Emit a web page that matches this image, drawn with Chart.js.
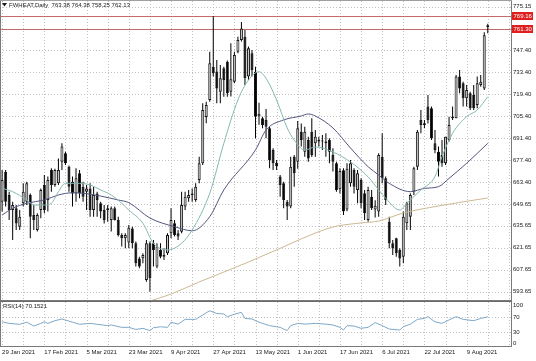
<!DOCTYPE html>
<html><head><meta charset="utf-8">
<script src="https://cdn.jsdelivr.net/npm/chart.js@4/dist/chart.umd.min.js"></script>
<style>
html,body{margin:0;padding:0;background:#fff;}
#wrap{position:relative;width:536px;height:361px;overflow:hidden;background:#fff;}
canvas{position:absolute;left:0;}
#c1{top:0;width:536px;height:301px;}
#c2{top:301px;width:536px;height:60px;}
</style></head><body>
<div id="wrap"><canvas id="c1" width="536" height="301"></canvas><canvas id="c2" width="536" height="60"></canvas></div>
<script>
// ---------------- data ----------------
const symbolTitle = 'FWHEAT,Daily  763.38 764.38 758.25 762.13';
const rsiTitle = 'RSI(14) 70.1521';
const dateLabels = ['29 Jan 2021','17 Feb 2021','5 Mar 2021','23 Mar 2021','9 Apr 2021','27 Apr 2021','13 May 2021','1 Jun 2021','17 Jun 2021','6 Jul 2021','22 Jul 2021','9 Aug 2021'];
const priceTicks = [775.15, 747.40, 733.40, 719.40, 705.40, 691.40, 677.40, 663.40, 649.65, 635.65, 621.65, 607.65, 593.65];
const rsiTicks = [100, 70, 30, 0];
const rsiLevels = [70, 30];
const hLines = [769.16, 761.30];

const open = [651.0,670.1,655.3,645.7,646.8,635.1,650.0,651.0,655.3,642.6,633.0,645.7,661.7,652.1,671.2,661.7,662.7,676.5,681.8,673.3,
663.8,656.3,669.1,660.6,657.4,659.5,645.7,656.3,650.0,645.7,645.7,639.4,646.8,639.4,629.8,627.7,625.0,634.0,624.5,614.9,
615.0,601.2,624.5,624.5,609.7,620.3,616.0,618.1,630.9,637.3,630.9,631.9,647.9,653.2,656.3,652.1,664.9,675.5,705.0,715.8,
737.0,733.9,721.1,736.0,740.2,721.0,727.5,746.6,754.0,756.1,730.7,745.5,733.8,705.5,704.1,703.1,697.8,683.9,675.9,667.0,
662.7,651.0,647.9,679.7,676.5,695.6,682.9,690.3,695.6,688.2,690.3,689.3,689.3,690.3,680.8,675.5,659.0,671.0,646.0,662.7,
671.2,658.5,664.9,656.4,639.4,654.2,646.0,644.7,679.7,665.9,638.3,624.5,627.7,620.3,616.0,637.3,641.5,657.4,673.3,703.1,
699.9,711.6,710.5,688.2,682.9,680.8,675.5,690.3,704.1,704.1,730.7,726.4,716.9,720.1,719.0,712.6,725.4,723.2,763.38];
const high = [671.2,671.2,657.4,651.0,648.9,645.7,662.7,663.8,656.3,648.9,643.6,659.5,668.0,667.0,672.3,672.0,678.6,688.2,682.9,674.0,
667.0,672.3,671.2,663.8,661.7,662.7,660.6,657.4,651.0,648.9,648.9,647.9,647.9,641.5,630.9,630.9,636.2,635.1,625.6,616.0,
618.1,626.6,625.6,626.6,624.5,624.5,621.3,630.9,646.8,639.4,633.0,657.4,657.4,658.5,659.5,662.7,679.7,713.7,714.7,746.6,
769.16,741.3,738.1,737.0,741.0,752.0,746.6,756.1,765.5,760.4,749.8,747.7,737.0,714.0,705.2,710.0,698.8,685.0,677.6,668.0,
663.8,652.1,679.7,680.8,702.5,700.9,698.8,692.4,704.1,696.7,692.4,693.5,694.6,691.4,685.0,676.5,672.3,672.3,675.5,677.6,
672.3,671.2,665.9,658.5,660.6,658.5,652.0,681.8,694.6,667.0,641.5,626.6,628.0,621.3,644.7,651.0,656.4,673.3,696.7,709.4,
703.1,719.0,711.6,696.7,686.1,690.3,692.4,705.2,711.6,731.7,734.9,727.5,725.4,721.1,725.4,730.7,731.7,759.0,764.38];
const low = [644.7,647.9,639.4,626.6,633.0,633.0,647.9,648.9,627.7,633.0,632.0,640.4,643.6,644.7,657.4,660.6,661.7,671.2,674.4,657.4,
647.9,651.0,653.2,651.0,645.7,641.5,641.5,641.5,640.4,637.2,638.3,632.0,639.0,628.8,622.4,621.3,621.3,621.3,609.7,608.6,
611.8,600.1,593.7,609.7,608.6,615.0,613.9,617.1,627.7,628.8,626.6,630.9,645.7,651.0,651.0,651.0,662.7,674.4,701.0,714.7,
730.7,713.7,713.7,717.9,717.9,718.0,726.4,745.5,753.0,725.4,728.5,730.7,691.5,700.0,697.8,691.4,672.3,671.2,671.2,654.2,
646.8,639.4,646.8,660.6,672.0,686.1,679.7,676.5,679.5,679.7,686.1,684.0,679.7,675.5,670.2,657.4,656.3,642.6,645.0,660.6,
656.3,650.0,646.8,639.4,638.3,645.7,641.0,641.5,662.7,648.9,621.3,617.1,616.0,609.7,611.8,633.0,633.0,655.3,671.2,694.6,
697.8,700.9,690.3,681.8,667.0,673.3,674.4,689.3,703.1,704.1,720.1,711.6,711.6,709.4,709.4,710.5,724.3,722.2,758.25];
const close = [664.8,651.0,645.7,648.9,637.2,641.5,657.4,662.7,641.5,639.4,642.6,658.5,645.7,664.8,661.7,671.2,671.2,686.1,675.5,660.6,
656.3,665.9,656.3,654.2,659.5,645.7,655.3,652.1,644.7,639.4,646.8,646.8,639.4,629.8,627.7,629.8,634.5,624.5,611.8,609.7,
617.0,624.5,602.2,620.3,622.4,616.0,617.1,629.8,639.4,629.8,628.8,648.9,654.2,655.3,655.3,660.6,675.5,709.4,712.6,739.2,
732.8,723.2,729.6,728.5,720.1,729.0,744.5,754.0,761.3,729.6,748.7,734.9,705.2,707.0,699.9,698.8,677.6,675.5,673.8,661.7,
652.1,647.9,673.3,669.1,697.8,690.3,695.6,678.6,680.8,692.4,689.3,690.0,688.2,682.9,676.5,658.5,670.5,645.0,672.0,675.5,
660.6,669.1,650.0,643.6,658.5,646.8,648.5,680.8,665.9,652.1,624.5,621.3,618.1,614.9,641.5,650.0,655.3,672.3,695.6,699.9,
701.0,703.1,691.4,684.0,676.5,675.5,692.4,699.9,705.2,730.7,723.2,716.9,722.2,710.5,710.5,726.4,727.5,757.0,762.13];

// moving averages (bar index, price)
const maFastIdx = [0,3,7,9,12,14,16,18,22,25,28,31,34,36,40,43,47,51,54,59,63,67,70,73,75,78,81,83,86,89,94,99,104,107,109,113,115,119,123,125,128,132,135,138];
const maFastVal = [659.6,657.4,652.1,648.9,648.9,650.0,657.4,662.7,662.7,661.7,658.5,655.3,650.0,645.7,637.3,624.5,620.3,624.5,633.0,656.4,688.2,715.8,728.5,733.8,729.6,715.8,698.0,690.3,683.9,685.9,682.7,676.3,666.8,658.5,653.2,645.7,650.0,658.5,667.0,679.7,694.6,705.2,709.4,717.9];
const maMidIdx = [0,3,7,12,16,20,23,28,33,36,42,49,54,59,63,72,75,80,85,87,89,94,99,104,107,110,116,120,124,127,132,138];
const maMidVal = [642.5,646.8,650.0,652.1,655.3,656.7,656.4,654.6,652.1,650.4,640.6,635.1,632.5,641.5,658.5,684.0,696.7,703.1,705.6,706.9,705.6,698.0,685.2,673.3,668.0,662.7,657.4,659.5,660.6,665.9,675.5,688.2];
const maSlowIdx = [41,48,56,63,70,78,85,94,102,107,114,124,138];
const maSlowVal = [587.0,592.2,599.9,606.2,612.6,620.3,627.3,634.9,637.5,638.7,643.8,648.3,653.4];

// RSI(14) (bar index, value)
const rsiIdx = [0,2,5,7,9,11,12,13,15,17,20,22,25,27,30,31,34,36,38,40,42,43,45,47,48,50,52,55,57,58,59,61,63,64,66,68,69,71,73,76,79,80,81,82,84,86,89,92,94,96,97,98,100,102,104,106,108,110,113,114,116,118,120,121,123,125,127,129,131,134,136,138];
const rsiVal = [57,53,50.5,56,46,53,57,53,60,64.5,56,50.5,53,50.5,47,48.7,42.5,42.5,37,40,34,41.5,44,42.5,56,51,63.5,63.5,75,81,86,79,77.6,70.5,77,82,66,64.5,56,47,42.5,38,34,47,53,51,53,51,48.7,42.5,35.5,47,46,40,42.5,55,47,38,35.5,44,51,63.5,66,70.5,57,53,62,70.5,63.5,60,66,70.15];

// ---------------- layout / style ----------------
const FONT = '"Liberation Sans", Arial, sans-serif';
const X_MIN = -0.6, X_MAX = 144.6;
const gridXTicks = []; for (let i = 0; i <= 144; i += 6) gridXTicks.push(i);

const gridPlugin = {
  id: 'mtGrid',
  beforeDatasetsDraw(chart, args, opts) {
    const {ctx, chartArea: a, scales} = chart;
    ctx.save();
    ctx.strokeStyle = '#c2c2c2'; ctx.lineWidth = 1; ctx.setLineDash([1, 2]);
    ctx.beginPath();
    (opts.yLines || []).forEach(v => { const y = Math.round(scales.y.getPixelForValue(v)) + 0.5; ctx.moveTo(a.left, y); ctx.lineTo(a.right, y); });
    gridXTicks.forEach(v => { const x = Math.round(scales.x.getPixelForValue(v)) + 0.5; ctx.moveTo(x, a.top); ctx.lineTo(x, a.bottom); });
    ctx.stroke();
    ctx.setLineDash([]);
    (opts.hLines || []).forEach(v => {
      const y = Math.round(scales.y.getPixelForValue(v)) + 0.5;
      ctx.strokeStyle = '#c46a6a'; ctx.beginPath(); ctx.moveTo(a.left, y); ctx.lineTo(a.right, y); ctx.stroke();
    });
    ctx.restore();
  }
};

const decoPlugin = {
  id: 'mtDeco',
  afterDraw(chart, args, opts) {
    const {ctx, chartArea: a, scales} = chart;
    ctx.save();
    (opts.hLines || []).forEach(v => {
      const y = Math.round(scales.y.getPixelForValue(v));
      ctx.fillStyle = '#e01e1e'; ctx.fillRect(a.right + 1, y - 4, 21, 8);
      ctx.fillStyle = '#ffffff'; ctx.font = '6px ' + FONT; ctx.textBaseline = 'middle'; ctx.textAlign = 'left';
      ctx.fillText(v.toFixed(2), a.right + 2.5, y + 0.5);
    });
    ctx.strokeStyle = '#7a7a7a'; ctx.lineWidth = 1;
    ctx.beginPath();
    ctx.moveTo(a.right + 0.5, 0); ctx.lineTo(a.right + 0.5, opts.frameBottom + 1);
    ctx.moveTo(0.5, 0); ctx.lineTo(0.5, opts.frameBottom + 1);
    ctx.moveTo(0, opts.frameBottom + 0.5); ctx.lineTo(a.right + 1, opts.frameBottom + 0.5);
    ctx.stroke();
    if (opts.frameTop !== undefined) {
      ctx.strokeStyle = opts.frameTopColor || '#7a7a7a';
      ctx.beginPath(); ctx.moveTo(0, opts.frameTop + 0.5); ctx.lineTo(a.right + 1, opts.frameTop + 0.5); ctx.stroke();
    }
    if (opts.title) {
      ctx.fillStyle = '#1a1a1a'; ctx.font = '6px ' + FONT; ctx.textBaseline = 'middle'; ctx.textAlign = 'left';
      if (opts.triangle) {
        ctx.beginPath(); ctx.moveTo(2, opts.titleY - 2); ctx.lineTo(7, opts.titleY - 2); ctx.lineTo(4.5, opts.titleY + 1.5); ctx.closePath(); ctx.fill();
      }
      ctx.fillText(opts.title, opts.titleX, opts.titleY);
    }
    ctx.restore();
  }
};

// ---------------- main price chart ----------------
const idx = open.map((o, i) => i);
const wickData = idx.map(i => ({x: i, y: [low[i], high[i]]}));
const bodyData = idx.map(i => ({x: i, y: [Math.min(open[i], close[i]), Math.max(open[i], close[i])]}));
const bodyFill = idx.map(i => close[i] >= open[i] ? '#d2d2d2' : '#000000');
const pts = (xs, ys) => xs.map((x, k) => ({x, y: ys[k]}));

new Chart(document.getElementById('c1'), {
  type: 'bar',
  data: { datasets: [
    {type: 'line', data: pts(maFastIdx, maFastVal), borderColor: '#86b7b3', borderWidth: 1, pointRadius: 0, cubicInterpolationMode: 'monotone', order: -3},
    {type: 'line', data: pts(maMidIdx, maMidVal), borderColor: '#52567e', borderWidth: 1, pointRadius: 0, cubicInterpolationMode: 'monotone', order: -2},
    {type: 'line', data: pts(maSlowIdx, maSlowVal), borderColor: '#cbb991', borderWidth: 1, pointRadius: 0, cubicInterpolationMode: 'monotone', order: -1},
    {data: bodyData, backgroundColor: bodyFill, borderColor: '#151515', borderWidth: 1, borderSkipped: false, grouped: false, barThickness: 3, maxBarThickness: 3, inflateAmount: 0, order: 0},
    {data: wickData, backgroundColor: '#000000', borderWidth: 0, grouped: false, barThickness: 1, maxBarThickness: 1, inflateAmount: 0, order: 1}
  ]},
  options: {
    responsive: false, animation: false, devicePixelRatio: 1,
    layout: {padding: {top: 1, bottom: 1, left: 0, right: 0}},
    plugins: {
      legend: {display: false}, tooltip: {enabled: false},
      mtGrid: {yLines: priceTicks, hLines: hLines},
      mtDeco: {hLines: hLines, frameBottom: 300, frameTop: 0, frameTopColor: '#a0a0a0', title: symbolTitle, titleX: 9, titleY: 5, triangle: true}
    },
    scales: {
      x: {type: 'linear', min: X_MIN, max: X_MAX, offset: false, bounds: 'data', display: false},
      y: {type: 'linear', position: 'right', min: 588.4, max: 778.86, bounds: 'data', beginAtZero: false,
          grid: {display: false, drawTicks: false}, border: {display: false},
          ticks: {font: {family: FONT, size: 6}, color: '#1a1a1a', padding: 2, autoSkip: false, callback: v => Number(v).toFixed(2)},
          afterBuildTicks: s => { s.ticks = priceTicks.map(v => ({value: v})); },
          afterFit: s => { s.width = 25; s.paddingTop = 0; s.paddingBottom = 0; }}
    }
  },
  plugins: [gridPlugin, decoPlugin]
});

// ---------------- RSI chart ----------------
new Chart(document.getElementById('c2'), {
  type: 'line',
  data: { datasets: [
    {data: pts(rsiIdx, rsiVal), borderColor: '#7ea8c8', borderWidth: 1, pointRadius: 0, tension: 0}
  ]},
  options: {
    responsive: false, animation: false, devicePixelRatio: 1,
    layout: {padding: {top: 1, bottom: 0, left: 0, right: 0}},
    plugins: {
      legend: {display: false}, tooltip: {enabled: false},
      mtGrid: {yLines: rsiLevels},
      mtDeco: {frameBottom: 45, frameTop: 0, frameTopColor: '#6a6a6a', title: rsiTitle, titleX: 3, titleY: 5}
    },
    scales: {
      x: {type: 'linear', min: X_MIN, max: X_MAX, offset: false, bounds: 'data', position: 'bottom',
          grid: {display: false, drawTicks: false}, border: {display: false},
          ticks: {autoSkip: false, maxRotation: 0, minRotation: 0, align: 'start', padding: 3,
                  font: {family: FONT, size: 6}, color: '#1a1a1a',
                  callback: v => (v % 12 === 0 && dateLabels[v / 12]) ? dateLabels[v / 12] : ''},
          afterBuildTicks: s => { s.ticks = gridXTicks.map(v => ({value: v})); },
          afterFit: s => { s.height = 15; s.paddingLeft = 0; s.paddingRight = 0; }},
      y: {type: 'linear', position: 'right', min: -6.58, max: 109.2, bounds: 'data',
          grid: {display: false, drawTicks: false}, border: {display: false},
          ticks: {font: {family: FONT, size: 6}, color: '#1a1a1a', padding: 2, autoSkip: false, callback: v => String(v)},
          afterBuildTicks: s => { s.ticks = rsiTicks.map(v => ({value: v})); },
          afterFit: s => { s.width = 25; s.paddingTop = 0; s.paddingBottom = 0; }}
    }
  },
  plugins: [gridPlugin, decoPlugin]
});
</script>
</body></html>
